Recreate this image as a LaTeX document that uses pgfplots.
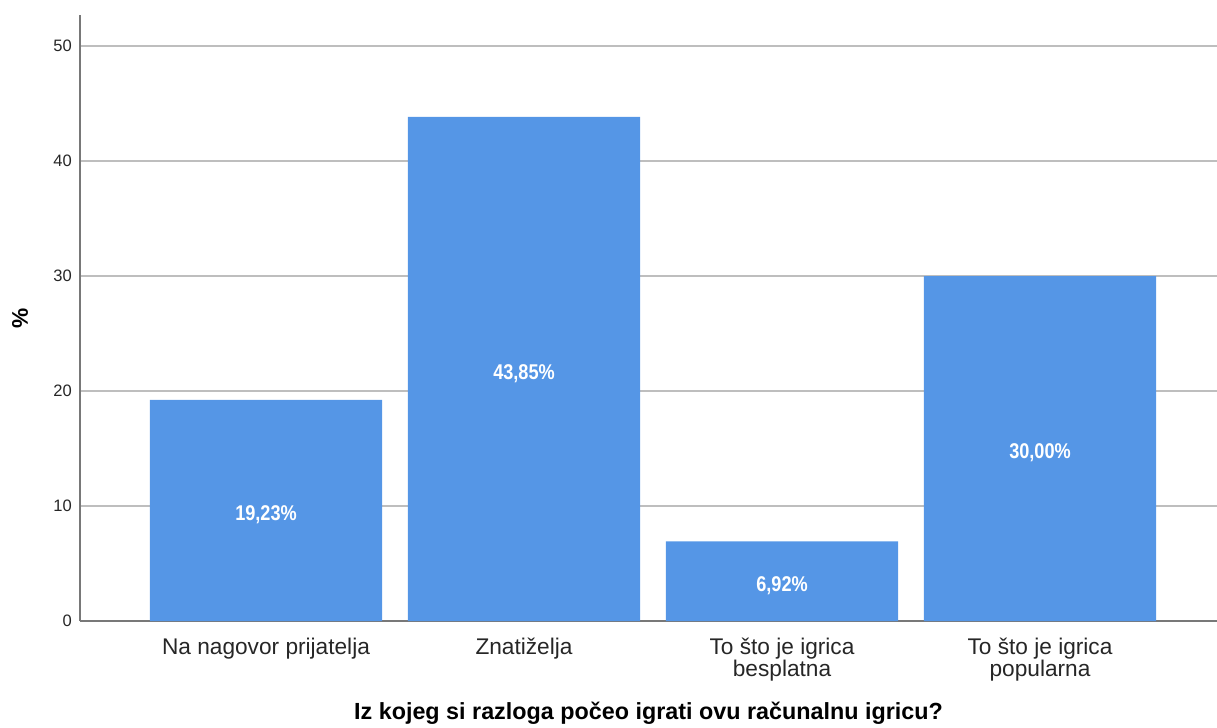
\documentclass[border=0pt]{standalone}
\usepackage{pgfplots}
\usepackage{pgfplotstable}
\pgfplotsset{compat=1.18}
\usepackage{fontspec}
\setmainfont{Liberation Sans}
\newfontfamily\narrowfont[FakeStretch=0.85]{Liberation Sans}
\definecolor{barblue}{RGB}{85,150,230}
\definecolor{gridgray}{RGB}{190,190,190}
\definecolor{axisgray}{RGB}{120,120,120}

\pgfplotstableread{
x y half lab
0 19.23 9.62 19,23
1 43.85 21.93 43,85
2 6.92 3.46 6,92
3 30.00 15.00 30,00
}\datatable

\begin{document}
\begin{tikzpicture}
\begin{axis}[
  width=852.75pt, height=454.5pt, scale only axis,
  xmin=-0.721, xmax=3.686, ymin=0, ymax=52.7,
  axis lines*=left,
  axis line style={axisgray, line width=1pt},
  ytick={0,10,20,30,40,50},
  ymajorgrids,
  grid style={gridgray, line width=0.9pt},
  major tick length=0pt,
  xtick={0,1,2,3},
  xticklabels={Na nagovor prijatelja, Znatiželja, {To što je igrica\\besplatna}, {To što je igrica\\popularna}},
  xticklabel style={font=\fontsize{17}{14}\selectfont, align=center, anchor=north, inner sep=0pt, yshift=-12.5pt, text=black!85},
  yticklabel style={font=\fontsize{12.4}{14}\selectfont, anchor=east, inner sep=0pt, xshift=-6pt, text=black!85},
  /pgf/number format/assume math mode=true,
  xlabel={Iz kojeg si razloga počeo igrati ovu računalnu igricu?},
  xlabel style={font=\bfseries\fontsize{17.5}{18}\selectfont, at={(axis description cs:0.5,0)}, anchor=base, yshift=-73.5pt},
  ylabel={\%},
  ylabel style={font=\bfseries\fontsize{17}{18}\selectfont, at={(axis description cs:-0.0528,0.5)}, anchor=center},
  clip=false,
]
\addplot[ybar, bar width=0.9, fill=barblue, draw=none] table[x=x, y=y] {\datatable};
\addplot[draw=none, mark=none, nodes near coords={\pgfplotspointmeta\%}, point meta=explicit symbolic,
  nodes near coords style={anchor=center, yshift=-3.5pt, text=white, font=\narrowfont\bfseries\fontsize{16}{16}\selectfont}]
  table[x=x, y=half, meta=lab] {\datatable};
\end{axis}
\pgfresetboundingbox
\path[use as bounding box] ([shift={(-60pt,-79.5pt)}]current axis.south west) rectangle ([shift={(0pt,11.25pt)}]current axis.north east);
\end{tikzpicture}
\end{document}
